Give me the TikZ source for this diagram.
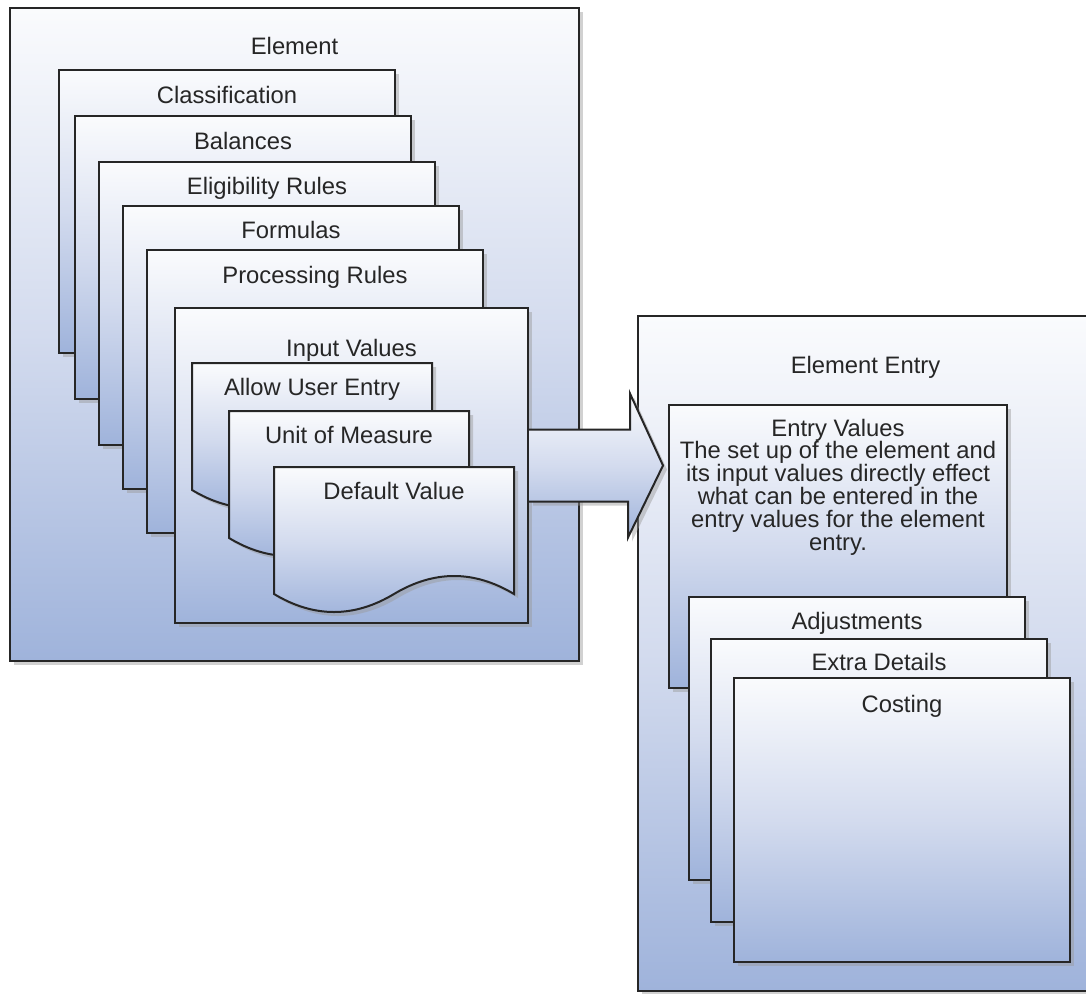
\documentclass[tikz,border=0pt]{standalone}
\usepackage{fontspec}
\setmainfont{Liberation Sans}
\usepackage{tikz}
\usetikzlibrary{shadows}
\definecolor{pagetop}{HTML}{FAFBFD}
\definecolor{pagemid}{HTML}{D3DBEE}
\definecolor{pagebot}{HTML}{9FB3DB}
\definecolor{darkline}{HTML}{262626}
\tikzset{
  sheet/.style={draw=darkline, line width=2pt, top color=pagetop,
    bottom color=pagebot, middle color=pagemid,
    drop shadow={shadow xshift=4pt, shadow yshift=-4pt, fill=black!40, opacity=.45}},
  page/.style={sheet, anchor=north west, inner sep=0pt},
  caption/.style={anchor=base, inner sep=0pt, text=darkline,
    font=\fontsize{23.8}{22.8}\selectfont},
}

\begin{document}
\begin{tikzpicture}[x=1pt, y=-1pt]

  \newcommand\PW{336pt}
  \newcommand\PH{283pt}
  \newcommand\docsheet[4]{%% #1,#2 top left, #3 name, #4 caption
    \begin{scope}[shift={(#1,#2)}]
      \path[sheet] (0,0) -- (240,0) -- (240,127)
        .. controls (200,103) and (160,103) .. (120,127)
        .. controls (80,151) and (40,151) .. (0,127) -- cycle;
      \coordinate (#3) at (120,0);
      \node[caption] (#3T) at ([yshift=-32pt]#3) {#4};
    \end{scope}}

  \useasboundingbox (0,0) rectangle (1086,993);

  %% left: the element and its pages
  \node[page, minimum width=569pt, minimum height=653pt] (elem) at (9,7) {};
  \node[caption] (elemT) at ([yshift=-47pt]elem.north) {Element};

  \node[page, minimum width=\PW, minimum height=\PH] (cls) at (58,69) {};
  \node[caption] (clsT) at ([yshift=-34pt]cls.north) {Classification};
  \node[page, minimum width=\PW, minimum height=\PH] (bal) at (74,115) {};
  \node[caption] (balT) at ([yshift=-34pt]bal.north) {Balances};
  \node[page, minimum width=\PW, minimum height=\PH] (elig) at (98,161) {};
  \node[caption] (eligT) at ([yshift=-33pt]elig.north) {Eligibility Rules};
  \node[page, minimum width=\PW, minimum height=\PH] (form) at (122,205) {};
  \node[caption] (formT) at ([yshift=-33pt]form.north) {Formulas};
  \node[page, minimum width=\PW, minimum height=\PH] (proc) at (146,249) {};
  \node[caption] (procT) at ([yshift=-34pt]proc.north) {Processing Rules};

  %% input values with its three sheets
  \node[page, minimum width=353pt, minimum height=315pt] (inval) at (174,307) {};
  \node[caption] (invalT) at ([yshift=-49pt]inval.north) {Input Values};
  \docsheet{192}{363}{allow}{Allow User Entry}
  \docsheet{229}{411}{unit}{Unit of Measure}
  \docsheet{274}{467}{dflt}{Default Value}

  %% right: the element entry
  \node[page, minimum width=455pt, minimum height=675pt] (entry) at (637,315) {};
  \node[caption] (entryT) at ([yshift=-58pt]entry.north) {Element Entry};

  \node[page, minimum width=338pt, minimum height=283pt] (entval) at (668,404) {};
  \node[caption, anchor=center, align=center] (entvalT) at ([yshift=-83pt]entval.north)
    {Entry Values\\The set up of the element and\\its input values directly effect\\
     what can be entered in the\\entry values for the element\\entry.};

  \node[page, minimum width=\PW, minimum height=\PH] (adj) at (688,596) {};
  \node[caption] (adjT) at ([yshift=-33pt]adj.north) {Adjustments};
  \node[page, minimum width=\PW, minimum height=\PH] (extra) at (710,638) {};
  \node[caption] (extraT) at ([yshift=-32pt]extra.north) {Extra Details};
  \node[page, minimum width=\PW, minimum height=284pt] (cost) at (733,677) {};
  \node[caption] (costT) at ([yshift=-35pt]cost.north) {Costing};

  %% block arrow input values -> entry values
  \coordinate[xshift=-5pt] (tip) at (entval.west |- inval.east);
  \path[sheet] ([yshift=36pt]inval.east) -- ++(101,0) -- ++(0,-36) -- (tip)
    -- ++(-35,72) -- ++(0,-36) -- ([yshift=-36pt]inval.east);

\end{tikzpicture}
\end{document}
